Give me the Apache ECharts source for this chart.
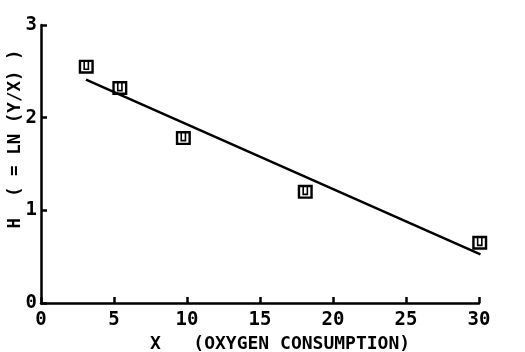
<!DOCTYPE html>
<html><head><meta charset="utf-8">
<script src="https://cdn.jsdelivr.net/npm/echarts@6/dist/echarts.min.js"></script>
<style>html,body{margin:0;padding:0;background:#fff}#c{width:525px;height:352px}</style>
</head><body><div id="c"></div>
<script>
const xTicks = [0, 5, 10, 15, 20, 25, 30];
const yTicks = [0, 1, 2, 3];
const pointsX = [3.1, 5.4, 9.75, 18.1, 30.05];
const pointsY = [2.55, 2.32, 1.78, 1.2, 0.65];
const fitX = [3.08, 30.1];
const fitY = [2.41, 0.525];
const xTitle = 'X   (OXYGEN CONSUMPTION)';
const yTitle = 'H  ( = LN (Y/X) )';

const FONT = '"DejaVu Sans Mono", monospace';
const markerPath = 'path://M0,0 L15,0 L15,14 L0,14 Z M2.4,2.4 L2.4,11.6 L12.6,11.6 L12.6,2.4 Z M4.6,2.4 L6.2,2.4 L6.2,8.8 L8.8,8.8 L8.8,2.4 L10.4,2.4 L10.4,10.4 L4.6,10.4 Z';

const chart = echarts.init(document.getElementById('c'), null, {renderer: 'canvas'});
chart.setOption({
  animation: false,
  backgroundColor: '#fff',
  grid: {left: 41, right: 46, top: 25, bottom: 49},
  xAxis: {
    type: 'value', min: xTicks[0], max: xTicks[xTicks.length - 1], interval: 5,
    axisLine: {lineStyle: {color: '#000', width: 2.5}},
    axisTick: {inside: true, length: 6, lineStyle: {color: '#000', width: 2.5}},
    axisLabel: {color: '#000', fontFamily: FONT, fontWeight: 'bold', fontSize: 19, margin: 8,
      formatter: v => xTicks.includes(v) ? String(v) : ''},
    splitLine: {show: false}
  },
  yAxis: {
    type: 'value', min: yTicks[0], max: yTicks[yTicks.length - 1], interval: 1,
    axisLine: {lineStyle: {color: '#000', width: 2.5}},
    axisTick: {inside: true, length: 6, lineStyle: {color: '#000', width: 2.5}},
    axisLabel: {color: '#000', fontFamily: FONT, fontWeight: 'bold', fontSize: 19, margin: 4,
      padding: [6, 0, 0, 0],
      formatter: v => yTicks.includes(v) ? String(v) : ''},
    splitLine: {show: false}
  },
  graphic: [
    {type: 'text', left: 150, top: 335,
      style: {text: xTitle, fill: '#000', font: 'bold 18px ' + FONT}},
    {type: 'text', x: 15, y: 139, rotation: Math.PI / 2,
      style: {text: yTitle, fill: '#000', font: 'bold 17.5px ' + FONT, align: 'center', verticalAlign: 'middle'}}
  ],
  series: [
    {type: 'line', data: fitX.map((x, i) => [x, fitY[i]]), symbol: 'none', clip: false,
      lineStyle: {color: '#000', width: 2.5}, z: 2},
    {type: 'scatter', data: pointsX.map((x, i) => [x, pointsY[i]]), symbol: markerPath, clip: false,
      symbolSize: [15, 14], itemStyle: {color: '#000', opacity: 1}, z: 3}
  ]
});
</script></body></html>
